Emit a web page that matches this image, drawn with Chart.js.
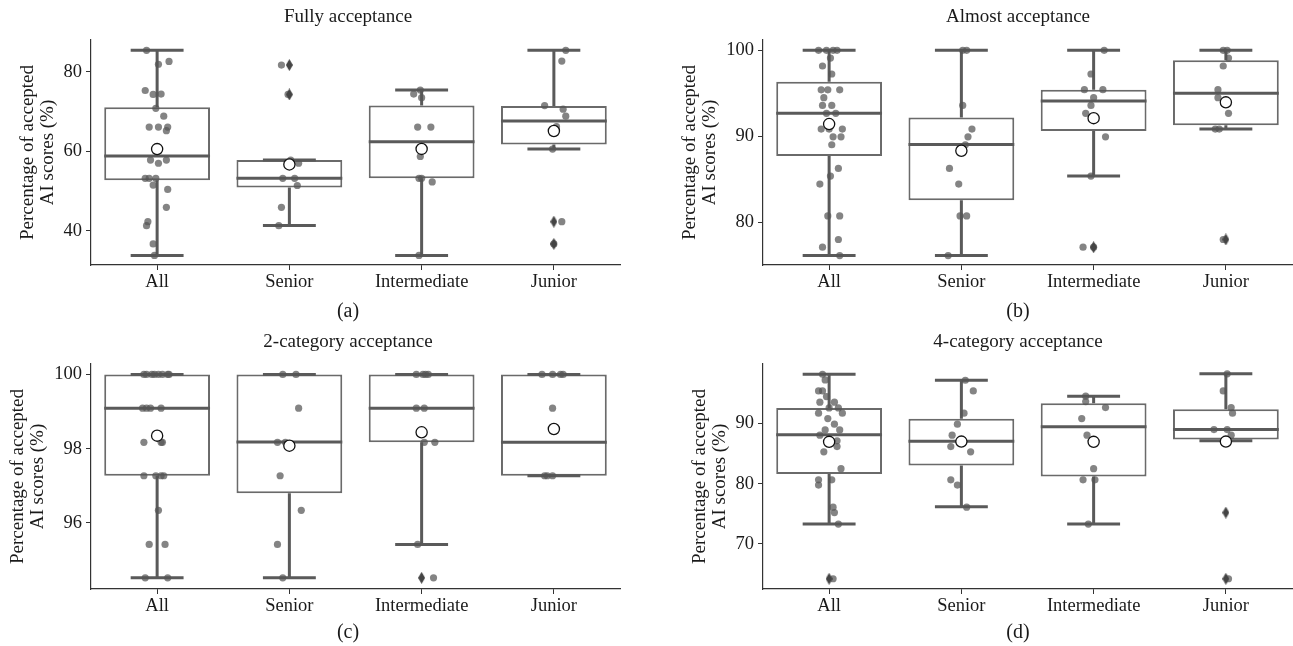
<!DOCTYPE html>
<html>
<head>
<meta charset="utf-8">
<script src="https://cdn.jsdelivr.net/npm/chart.js@4.4.1/dist/chart.umd.min.js"></script>
<style>
  html, body { margin: 0; padding: 0; background: #fff; width: 1293px; height: 646px; overflow: hidden; position: relative; }
  canvas { position: absolute; }
  #cA { left: 0; top: 0; }
  #cB { left: 672px; top: 0; }
  #cC { left: 0; top: 324px; }
  #cD { left: 672px; top: 324px; }
</style>
</head>
<body>
<canvas id="cA" width="696" height="323"></canvas>
<canvas id="cB" width="692" height="323"></canvas>
<canvas id="cC" width="696" height="322"></canvas>
<canvas id="cD" width="692" height="322"></canvas>
<script>
// ====================================
// Data
// ====================================
const categories = ['All', 'Senior', 'Intermediate', 'Junior'];
const catIndex = [0, 1, 2, 3];
const yTitle = ['Percentage of accepted', 'AI scores (%)'];

// (a) Fully acceptance
const titleA = 'Fully acceptance';
const yTicksA = [40, 60, 80];
const yRangeA = [31.4, 88.0];
const q1A = [52.75, 50.9, 53.2, 61.7];
const medA = [58.8, 53.2, 62.4, 67.6];
const q3A = [71.1, 57.8, 71.55, 71.4];
const loA = [33.8, 41.35, 33.8, 60.55];
const hiA = [85.4, 57.8, 75.4, 85.4];
const meanA = [60.55, 56.7, 60.6, 65.1];
const outA = [[], [81.7, 74.3], [], [42.3, 36.7]];
const ptsA = [
  [85.4, 81.9, 82.6, 75.3, 74.3, 74.4, 70.8, 68.85, 66.1, 66.1, 66.1, 65.2, 57.8, 57.8, 57.0, 53.2, 53.2, 53.2, 51.5, 50.4, 45.9, 42.3, 41.3, 36.7, 33.8],
  [81.7, 74.3, 57.8, 57.0, 53.2, 53.2, 51.4, 45.9, 41.3],
  [75.4, 74.4, 73.5, 66.1, 66.1, 58.7, 53.2, 53.2, 52.3, 33.8],
  [85.4, 82.7, 71.5, 70.6, 68.85, 66.2, 65.3, 60.55, 42.3, 36.7]
];
const jitA = [
  [-0.08, 0.01, 0.09, -0.09, -0.03, 0.03, -0.01, 0.05, -0.06, 0.01, 0.08, 0.07, -0.05, 0.07, 0.01, -0.09, -0.06, -0.01, -0.03, 0.08, 0.07, -0.07, -0.08, -0.03, -0.02],
  [-0.06, -0.01, 0.01, 0.07, -0.05, 0.04, 0.06, -0.06, -0.08],
  [-0.01, -0.06, 0, -0.03, 0.07, -0.01, -0.02, 0, 0.08, -0.02],
  [0.09, 0.06, -0.07, 0.07, 0.09, 0.02, -0.01, -0.01, 0.06, 0]
];

// (b) Almost acceptance
const titleB = 'Almost acceptance';
const yTicksB = [80, 90, 100];
const yRangeB = [75.0, 101.2];
const q1B = [87.68, 82.55, 90.59, 91.26];
const medB = [92.66, 89.04, 94.09, 94.99];
const q3B = [96.34, 92.19, 95.41, 98.83];
const loB = [76.1, 76.1, 85.35, 90.83];
const hiB = [100, 100, 100, 100];
const meanB = [91.41, 88.3, 92.1, 93.94];
const outB = [[], [], [77.07], [77.97]];
const ptsB = [
  [100, 100, 100, 100, 99.1, 98.17, 97.24, 95.4, 95.4, 95.4, 94.48, 93.58, 93.58, 92.66, 92.66, 90.83, 90.83, 90.83, 89.93, 89.93, 89.0, 86.25, 85.35, 84.42, 80.72, 80.72, 77.97, 77.07, 76.1],
  [100, 100, 93.58, 90.83, 89.93, 89.0, 86.25, 84.42, 80.72, 80.72, 76.1],
  [100, 97.24, 95.41, 95.41, 94.48, 93.58, 92.66, 89.93, 85.35, 77.07, 77.07],
  [100, 100, 99.1, 98.17, 95.41, 94.48, 92.66, 90.83, 90.83, 77.97]
];
const jitB = [
  [-0.08, -0.02, 0.03, 0.06, 0.01, -0.05, 0.02, -0.06, -0.01, 0.08, -0.04, -0.05, 0.02, -0.02, 0.05, -0.06, 0, 0.1, 0.03, 0.09, 0.02, 0.07, 0.01, -0.07, -0.01, 0.08, 0.07, -0.05, 0.08],
  [0.01, 0.04, 0.01, 0.08, 0.05, 0.03, -0.09, -0.02, -0.01, 0.04, -0.1],
  [0.08, -0.02, -0.07, 0.07, 0, -0.02, -0.06, 0.09, -0.02, -0.08, 0],
  [-0.02, 0.01, 0.02, -0.02, -0.06, -0.06, 0.02, -0.08, -0.05, -0.02]
];

// (c) 2-category acceptance
const titleC = '2-category acceptance';
const yTicksC = [96, 98, 100];
const yRangeC = [94.22, 100.28];
const q1C = [97.27, 96.8, 98.17, 97.27];
const medC = [99.09, 98.18, 99.09, 98.17];
const q3C = [100, 100, 100, 100];
const loC = [94.52, 94.52, 95.42, 97.27];
const hiC = [100, 100, 100, 100];
const meanC = [98.35, 98.08, 98.44, 98.53];
const outC = [[], [], [94.52], []];
const ptsC = [
  [100, 100, 100, 100, 100, 100, 100, 100, 99.09, 99.09, 99.09, 99.09, 98.17, 98.17, 98.17, 97.27, 97.27, 97.27, 97.27, 96.34, 95.42, 95.42, 94.52, 94.52],
  [100, 100, 99.09, 98.17, 98.17, 97.27, 96.34, 95.42, 94.52],
  [100, 100, 100, 100, 99.09, 99.09, 98.17, 98.17, 95.42, 94.52],
  [100, 100, 100, 100, 99.09, 97.27, 97.27, 97.27]
];
const jitC = [
  [-0.1, -0.08, -0.04, -0.02, 0.01, 0.04, 0.08, 0.09, -0.11, -0.08, -0.05, 0.03, -0.1, 0.03, 0.04, -0.1, -0.01, 0.03, 0.05, 0.01, -0.06, 0.06, -0.09, 0.08],
  [-0.05, 0.05, 0.07, -0.09, -0.03, -0.07, 0.09, -0.09, -0.05],
  [-0.04, 0.01, 0.03, 0.05, -0.04, 0.02, 0.02, 0.1, -0.03, 0.09],
  [-0.09, -0.01, 0.05, 0.07, -0.01, -0.07, -0.05, -0.01]
];

// (d) 4-category acceptance
const titleD = '4-category acceptance';
const yTicksD = [70, 80, 90];
const yRangeD = [62.5, 99.9];
const q1D = [81.6, 83.03, 81.2, 87.35];
const medD = [88.12, 87.07, 89.45, 89.0];
const q3D = [92.6, 90.78, 93.39, 92.38];
const loD = [73.3, 76.16, 73.3, 87.13];
const hiD = [98.2, 97.2, 94.55, 98.26];
const meanD = [86.96, 87.0, 86.96, 87.0];
const outD = [[64.2], [], [], [75.2, 64.2]];
const ptsD = [
  [98.2, 97.26, 95.43, 95.43, 94.49, 93.55, 93.55, 92.6, 92.6, 91.72, 91.72, 90.83, 89.9, 88.95, 88.95, 88.07, 87.13, 86.18, 85.3, 82.5, 80.65, 80.65, 79.77, 76.1, 75.2, 73.3, 64.2],
  [97.2, 95.43, 91.72, 89.9, 88.07, 86.18, 85.3, 80.65, 79.77, 76.1],
  [94.55, 93.65, 92.66, 90.83, 88.07, 82.5, 80.65, 80.65, 73.3],
  [98.26, 95.43, 92.66, 91.72, 89.0, 89.0, 88.07, 87.13, 64.2]
];
const jitD = [
  [-0.05, -0.03, -0.08, -0.05, -0.02, -0.07, 0.04, 0, 0.07, -0.08, 0.1, -0.01, 0.04, -0.03, 0.08, -0.07, 0.06, 0.06, -0.04, 0.09, -0.08, 0.02, -0.08, 0.03, 0.04, 0.07, 0.03],
  [0.03, 0.09, 0.02, -0.03, -0.07, -0.08, 0.07, -0.08, -0.03, 0.04],
  [-0.06, -0.06, 0.09, -0.09, -0.05, 0, -0.08, 0.01, -0.04],
  [0.01, -0.02, 0.04, 0.05, -0.09, 0.01, 0.04, 0, 0.02]
];

// ====================================
// Styling
// ====================================
Chart.defaults.font.family = '"Liberation Serif", "Times New Roman", serif';
Chart.defaults.color = '#1a1a1a';

var AXIS = '#333333';
var BOX_EDGE = '#6a6a6a';
var WHISKER = '#5a5a5a';

// thin diamond used for fliers
function makeDiamond() {
  var c = document.createElement('canvas');
  c.width = 7; c.height = 12;
  var g = c.getContext('2d');
  g.fillStyle = '#444444';
  g.beginPath();
  g.moveTo(3.5, 0); g.lineTo(7, 6); g.lineTo(3.5, 12); g.lineTo(0, 6);
  g.closePath(); g.fill();
  return c;
}
var diamond = makeDiamond();

// whiskers, caps and median, drawn right after the box bars
var whiskerPlugin = {
  id: 'whiskers',
  afterDatasetDraw: function(chart, args, opts) {
    if (args.index !== 0) return;
    var ctx = chart.ctx, x = chart.scales.x, y = chart.scales.y;
    var bars = args.meta.data;
    ctx.save();
    ctx.strokeStyle = WHISKER;
    ctx.lineWidth = 3;
    opts.med.forEach(function(m, i) {
      var cx = x.getPixelForValue(catIndex[i]);
      var w = bars[i].width;
      var yq1 = y.getPixelForValue(opts.q1[i]);
      var yq3 = y.getPixelForValue(opts.q3[i]);
      var ylo = y.getPixelForValue(opts.lo[i]);
      var yhi = y.getPixelForValue(opts.hi[i]);
      var ym = y.getPixelForValue(m);
      ctx.beginPath();
      ctx.moveTo(cx, yq1); ctx.lineTo(cx, ylo);
      ctx.moveTo(cx, yq3); ctx.lineTo(cx, yhi);
      ctx.moveTo(cx - w / 4, ylo); ctx.lineTo(cx + w / 4, ylo);
      ctx.moveTo(cx - w / 4, yhi); ctx.lineTo(cx + w / 4, yhi);
      ctx.moveTo(cx - w / 2, ym); ctx.lineTo(cx + w / 2, ym);
      ctx.stroke();
    });
    ctx.restore();
  }
};

function makePanel(id, p) {
  var boxes = catIndex.map(function(i) { return {x: i, y: [p.q1[i], p.q3[i]]}; });
  var strip = [];
  p.pts.forEach(function(vals, i) {
    vals.forEach(function(v, k) { strip.push({x: catIndex[i] + p.jit[i][k], y: v}); });
  });
  var fliers = [];
  p.out.forEach(function(vals, i) {
    vals.forEach(function(v) { fliers.push({x: catIndex[i], y: v}); });
  });
  var means = p.mean.map(function(v, i) { return {x: catIndex[i], y: v}; });

  new Chart(document.getElementById(id), {
    type: 'bar',
    data: {
      datasets: [{
        type: 'bar',
        data: boxes,
        backgroundColor: '#ffffff',
        borderColor: BOX_EDGE,
        borderWidth: 2,
        borderSkipped: false,
        barPercentage: 0.8,
        categoryPercentage: 1,
        order: 3
      }, {
        type: 'scatter',
        data: strip,
        pointRadius: 3.6,
        pointBackgroundColor: 'rgba(85, 85, 85, 0.72)',
        pointBorderWidth: 0,
        order: 2
      }, {
        type: 'scatter',
        data: fliers,
        pointStyle: diamond,
        order: 1
      }, {
        type: 'scatter',
        data: means,
        pointRadius: 5.6,
        pointBackgroundColor: '#ffffff',
        pointBorderColor: '#111111',
        pointBorderWidth: 1.3,
        order: 0
      }]
    },
    options: {
      responsive: false,
      animation: false,
      devicePixelRatio: 1,
      layout: { padding: 0 },
      plugins: {
        legend: { display: false },
        tooltip: { enabled: false },
        title: {
          display: true,
          text: p.title,
          fullSize: true,
          font: { size: 19, weight: 'normal' },
          color: '#1a1a1a',
          padding: p.titlePad
        },
        subtitle: {
          display: true,
          position: 'bottom',
          text: p.letter,
          fullSize: true,
          font: { size: 20, lineHeight: 1.1 },
          color: '#1a1a1a',
          padding: p.subPad
        },
        whiskers: { q1: p.q1, q3: p.q3, med: p.med, lo: p.lo, hi: p.hi }
      },
      scales: {
        x: {
          type: 'linear',
          min: -0.5,
          max: 3.5,
          offset: false,
          afterBuildTicks: function(s) { s.ticks = catIndex.map(function(v) { return {value: v}; }); },
          afterFit: function(s) { s.height = p.xAxisH; },
          ticks: {
            callback: function(v) { return categories[v]; },
            font: { size: 18.5 },
            color: '#1a1a1a',
            padding: 1,
            maxRotation: 0
          },
          grid: { display: true, offset: false, drawOnChartArea: false, drawTicks: true, tickLength: 5, tickColor: AXIS },
          border: { display: true, color: AXIS, width: 1.2 }
        },
        y: {
          type: 'linear',
          position: 'left',
          min: p.yRange[0],
          max: p.yRange[1],
          afterBuildTicks: function(s) { s.ticks = p.yTicks.map(function(v) { return {value: v}; }); },
          afterFit: function(s) { s.width = 91; },
          ticks: { font: { size: 18.5 }, color: '#1a1a1a', padding: 4 },
          grid: { display: true, drawOnChartArea: false, drawTicks: true, tickLength: 5, tickColor: AXIS },
          border: { display: true, color: AXIS, width: 1.2 },
          title: {
            display: true,
            text: yTitle,
            font: { size: 19, lineHeight: 1.05 },
            color: '#1a1a1a',
            padding: { top: p.yTitlePad, bottom: 0 }
          }
        },
        y2: {
          type: 'linear',
          position: 'right',
          display: true,
          afterFit: function(s) { s.width = p.rightW; },
          ticks: { display: false },
          grid: { display: false, drawTicks: false },
          border: { display: false }
        }
      }
    },
    plugins: [whiskerPlugin]
  });
}

makePanel('cA', {
  title: titleA, letter: '(a)', yTicks: yTicksA, yRange: yRangeA,
  q1: q1A, med: medA, q3: q3A, lo: loA, hi: hiA, mean: meanA, out: outA, pts: ptsA, jit: jitA,
  titlePad: { top: 5.6, bottom: 11.6 }, subPad: { top: 0, bottom: 0.3 }, xAxisH: 35.7, rightW: 76, yTitlePad: 18.3
});
makePanel('cB', {
  title: titleB, letter: '(b)', yTicks: yTicksB, yRange: yRangeB,
  q1: q1B, med: medB, q3: q3B, lo: loB, hi: hiB, mean: meanB, out: outB, pts: ptsB, jit: jitB,
  titlePad: { top: 5.6, bottom: 11.6 }, subPad: { top: 0, bottom: 0.3 }, xAxisH: 35.7, rightW: 72, yTitlePad: 8
});
makePanel('cC', {
  title: titleC, letter: '(c)', yTicks: yTicksC, yRange: yRangeC,
  q1: q1C, med: medC, q3: q3C, lo: loC, hi: hiC, mean: meanC, out: outC, pts: ptsC, jit: jitC,
  titlePad: { top: 6.3, bottom: 10.9 }, subPad: { top: 0, bottom: 2 }, xAxisH: 33, rightW: 76, yTitlePad: 8
});
makePanel('cD', {
  title: titleD, letter: '(d)', yTicks: yTicksD, yRange: yRangeD,
  q1: q1D, med: medD, q3: q3D, lo: loD, hi: hiD, mean: meanD, out: outD, pts: ptsD, jit: jitD,
  titlePad: { top: 6.3, bottom: 10.9 }, subPad: { top: 0, bottom: 2 }, xAxisH: 33, rightW: 72, yTitlePad: 18.3
});
</script>
</body>
</html>
